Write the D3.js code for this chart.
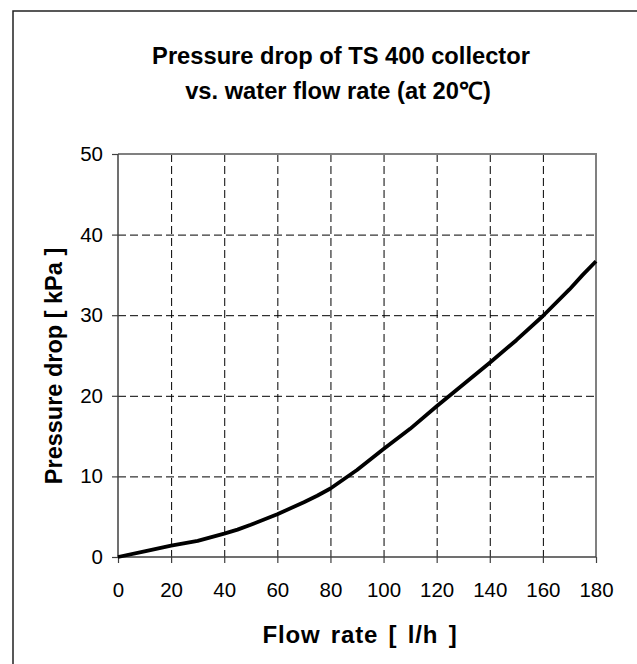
<!DOCTYPE html>
<html>
<head>
<meta charset="utf-8">
<script src="https://cdn.jsdelivr.net/npm/d3@7"></script>
<style>
html,body{margin:0;padding:0;background:#fff;}
svg{display:block;}
text{font-family:"Liberation Sans",Arial,sans-serif;fill:#000;}
</style>
</head>
<body>
<svg id="chart" width="637" height="664"></svg>
<script>
const flowRate = [0,10,20,30,40,45,50,60,70,75,80,90,100,110,120,130,140,150,160,170,175,180];
const pressureDrop = [0,0.7,1.4,2.0,2.9,3.4,4.0,5.3,6.8,7.6,8.5,10.8,13.4,15.9,18.7,21.4,24.1,26.9,29.9,33.2,35.0,36.7];
const xTicks = [0,20,40,60,80,100,120,140,160,180];
const yTicks = [0,10,20,30,40,50];
const titleLines = ["Pressure drop of TS 400 collector","vs. water flow rate (at 20\u2103)"];
const xLabel = "Flow rate [ l/h ]";
const yLabel = "Pressure drop [ kPa ]";

const svg = d3.select("#chart");
const L = 118, R = 596, T = 154, B = 557;
const x = d3.scaleLinear().domain([0,180]).range([L,R]);
const y = d3.scaleLinear().domain([0,50]).range([B,T]);

// outer frame
svg.append("path").attr("d","M13,700 L13,11 L700,11")
  .attr("fill","none").attr("stroke","#222").attr("stroke-width",1.5);

// title
svg.append("text").attr("x",341).attr("y",64).attr("text-anchor","middle")
  .attr("font-size",23.7).attr("font-weight","bold").text(titleLines[0]);
svg.append("text").attr("x",338).attr("y",99).attr("text-anchor","middle")
  .attr("font-size",23.7).attr("font-weight","bold").text(titleLines[1]);

// grid
const grid = svg.append("g").attr("stroke","#000").attr("stroke-width",1).attr("stroke-dasharray","8,4");
grid.selectAll("line.v").data(xTicks.filter(d=>d>0&&d<180)).join("line")
  .attr("x1",d=>x(d)+0.5).attr("x2",d=>x(d)+0.5).attr("y1",T).attr("y2",B);
grid.selectAll("line.h").data(yTicks.filter(d=>d>0&&d<50)).join("line")
  .attr("x1",L).attr("x2",R).attr("y1",d=>y(d)+0.5).attr("y2",d=>y(d)+0.5);

// top/right border
svg.append("path").attr("d",`M${L},${T} L${R},${T} L${R},${B}`)
  .attr("fill","none").attr("stroke","#808080").attr("stroke-width",2);

// axes
const xAxis = d3.axisBottom(x).tickValues(xTicks).tickSize(6).tickPadding(19).tickFormat(d3.format("d"));
const yAxis = d3.axisLeft(y).tickValues(yTicks).tickSize(6).tickPadding(9).tickFormat(d3.format("d"));
const gx = svg.append("g").attr("transform",`translate(0,${B})`).call(xAxis);
const gy = svg.append("g").attr("transform",`translate(${L},0)`).call(yAxis);
[gx,gy].forEach(g=>{
  g.select(".domain").attr("stroke","#404040").attr("stroke-width",1.5);
  g.selectAll(".tick line").attr("stroke","#404040").attr("stroke-width",1.2);
  g.selectAll(".tick text").attr("font-size",20.5).attr("font-family","Liberation Sans, Arial, sans-serif").attr("fill","#000");
});
gx.select(".domain").attr("d",`M${L},0H${R}`);
gy.select(".domain").attr("d",`M0,${B}V${T}`);

// curve
const line = d3.line().x((d,i)=>x(flowRate[i])).y(d=>y(d));
svg.append("path").datum(pressureDrop).attr("d",line)
  .attr("fill","none").attr("stroke","#000").attr("stroke-width",3.8).attr("stroke-linejoin","round");

// axis labels
svg.append("text").attr("x",360).attr("y",643).attr("text-anchor","middle")
  .attr("font-size",24).attr("font-weight","bold")
  .attr("letter-spacing",0.8).attr("word-spacing",3).text(xLabel);
svg.append("text").attr("transform","translate(62,366) rotate(-90)").attr("text-anchor","middle")
  .attr("font-size",23.5).attr("font-weight","bold").text(yLabel);
</script>
</body>
</html>
